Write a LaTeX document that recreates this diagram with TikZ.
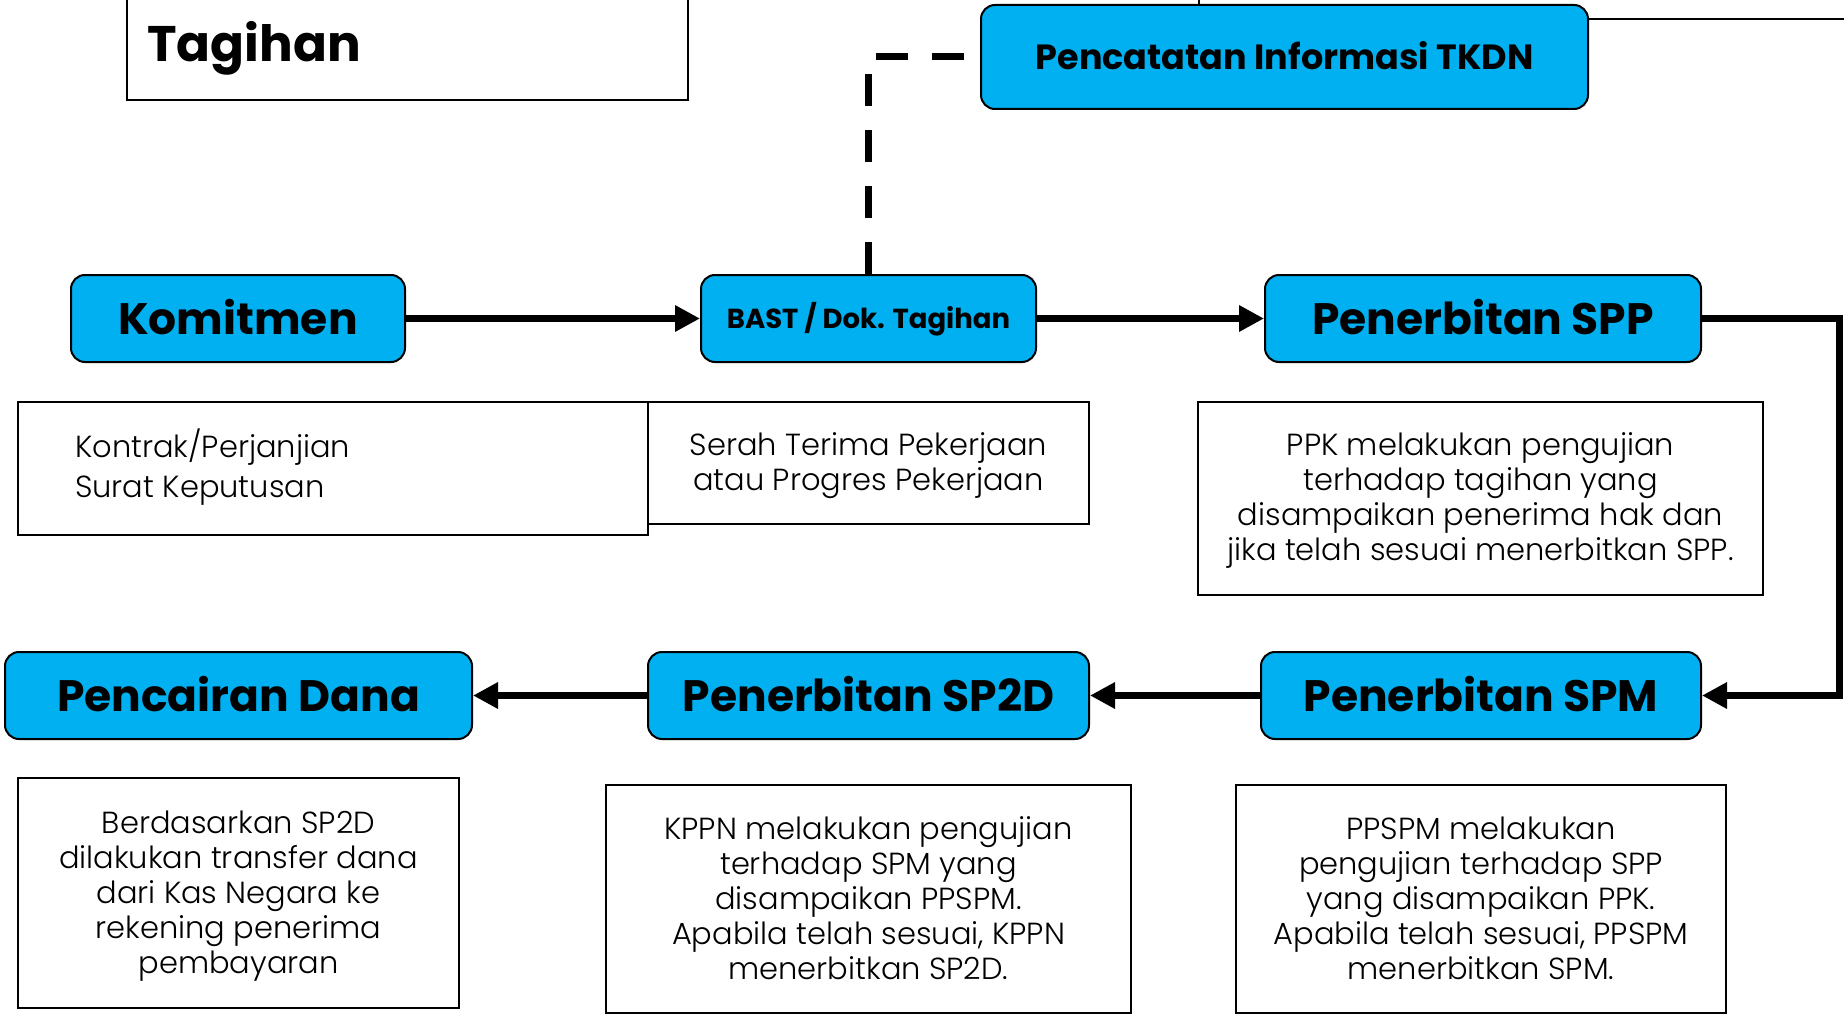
\documentclass[tikz,border=0pt]{standalone}
\usepackage{fontspec}
\setmainfont{Poppins}
\IfFontExistsTF{Poppins Light}{\newfontfamily\bodyfont{Poppins Light}}{\newfontfamily\bodyfont{Poppins}}
\usetikzlibrary{arrows.meta}
\definecolor{boxblue}{HTML}{00B0F0}
\begin{document}
\begin{tikzpicture}[x=1pt,y=-1pt,
  stepbox/.style={draw=black, line width=2pt, fill=boxblue, rounded corners=14pt,
    inner sep=0pt, minimum height=87pt, text height=31pt, text depth=0pt,
    font=\bfseries\fontsize{44}{50}\selectfont},
  smallstep/.style={text height=19pt, font=\bfseries\fontsize{27.5}{32}\selectfont},
  tkdnstep/.style={text height=24.5pt, font=\bfseries\fontsize{35}{40}\selectfont},
  descbox/.style={draw=black, line width=1.6pt, inner sep=0pt},
  desctext/.style={anchor=base, inner sep=0pt, font=\bodyfont\fontsize{30.5}{35}\selectfont},
  flow/.style={line width=7pt, -{Triangle[length=25pt,width=25pt]}},
  tkdnlink/.style={line width=7pt, dash pattern=on 32pt off 24pt},
  thinlink/.style={line width=2pt}
]
\useasboundingbox[fill=white] (0,0) rectangle (1844,1014);

% title box (cut off at top)
\draw[line width=1.6pt] (127,-10) -- (127,100) -- (688,100) -- (688,-10);
\node[anchor=base west, inner sep=0pt, font=\bfseries\fontsize{50}{60}\selectfont] (title) at (147,62) {Tagihan};

% main step boxes
\node[stepbox, minimum width=334pt] (komit) at (238,318.5) {Komitmen};
\node[stepbox, smallstep, minimum width=335pt] (bast) at (868.5,318.5) {BAST / Dok. Tagihan};
\node[stepbox, minimum width=436pt] (spp) at (1483,318.5) {Penerbitan SPP};
\node[stepbox, tkdnstep, minimum width=607pt, minimum height=104pt] (tkdn) at (1284.5,57) {Pencatatan Informasi TKDN};
\node[stepbox, minimum width=467pt] (cair) at (238.5,695.5) {Pencairan Dana};
\node[stepbox, minimum width=441pt] (sp2d) at (868.5,695.5) {Penerbitan SP2D};
\node[stepbox, minimum width=440pt] (spm) at (1481,695.5) {Penerbitan SPM};

% description boxes
\node[descbox, minimum width=630pt, minimum height=133pt] (dkomit) at (333,468.5) {};
\node[descbox, minimum width=441pt, minimum height=122pt] (dbast) at (868.5,463) {};
\node[descbox, minimum width=565pt, minimum height=193pt] (dspp) at (1480.5,498.5) {};
\node[descbox, minimum width=441pt, minimum height=230pt] (dcair) at (238.5,893) {};
\node[descbox, minimum width=525pt, minimum height=228pt] (dsp2d) at (868.5,899) {};
\node[descbox, minimum width=490pt, minimum height=228pt] (dspm) at (1481,899) {};

% description texts
\node[desctext, anchor=base west, font=\bodyfont\fontsize{30.5}{40}\selectfont] (tkomit) at (75,457)
  {\parbox[t]{500pt}{\raggedright Kontrak/Perjanjian\\Surat Keputusan}};
\node[desctext] (tbast) at (868.5,455)
  {\parbox[t]{430pt}{\centering Serah Terima Pekerjaan\\atau Progres Pekerjaan}};
\node[desctext] (tspp) at (1480.5,455)
  {\parbox[t]{560pt}{\centering PPK melakukan pengujian\\terhadap tagihan yang\\disampaikan penerima hak dan\\jika telah sesuai menerbitkan SPP.}};
\node[desctext] (tcair) at (238.5,833)
  {\parbox[t]{430pt}{\centering Berdasarkan SP2D\\dilakukan transfer dana\\dari Kas Negara ke\\rekening penerima\\pembayaran}};
\node[desctext] (tsp2d) at (868.5,839)
  {\parbox[t]{520pt}{\centering KPPN melakukan pengujian\\terhadap SPM yang\\disampaikan PPSPM.\\Apabila telah sesuai, KPPN\\menerbitkan SP2D.}};
\node[desctext] (tspm) at (1481,839)
  {\parbox[t]{485pt}{\centering PPSPM melakukan\\pengujian terhadap SPP\\yang disampaikan PPK.\\Apabila telah sesuai, PPSPM\\menerbitkan SPM.}};

% connectors
\draw[flow] (komit) -- (bast);
\draw[flow] (bast) -- (spp);
\coordinate (rc) at (1839,318.5);
\draw[flow] (spp.east) -- (rc) |- (spm.east);
\draw[flow] (spm) -- (sp2d);
\draw[flow] (sp2d) -- (cair);
\coordinate (dc) at (868.5,57);
\draw[tkdnlink] (bast.north) -- (dc) -- (tkdn.west);

% partial thin lines at the top edge
\coordinate (tv) at (1199,-2);
\draw[thinlink] (tkdn.north -| tv) -- (tv);
\coordinate (th) at (1846,19);
\draw[thinlink] (th -| tkdn.east) -- (th);
\end{tikzpicture}
\end{document}
